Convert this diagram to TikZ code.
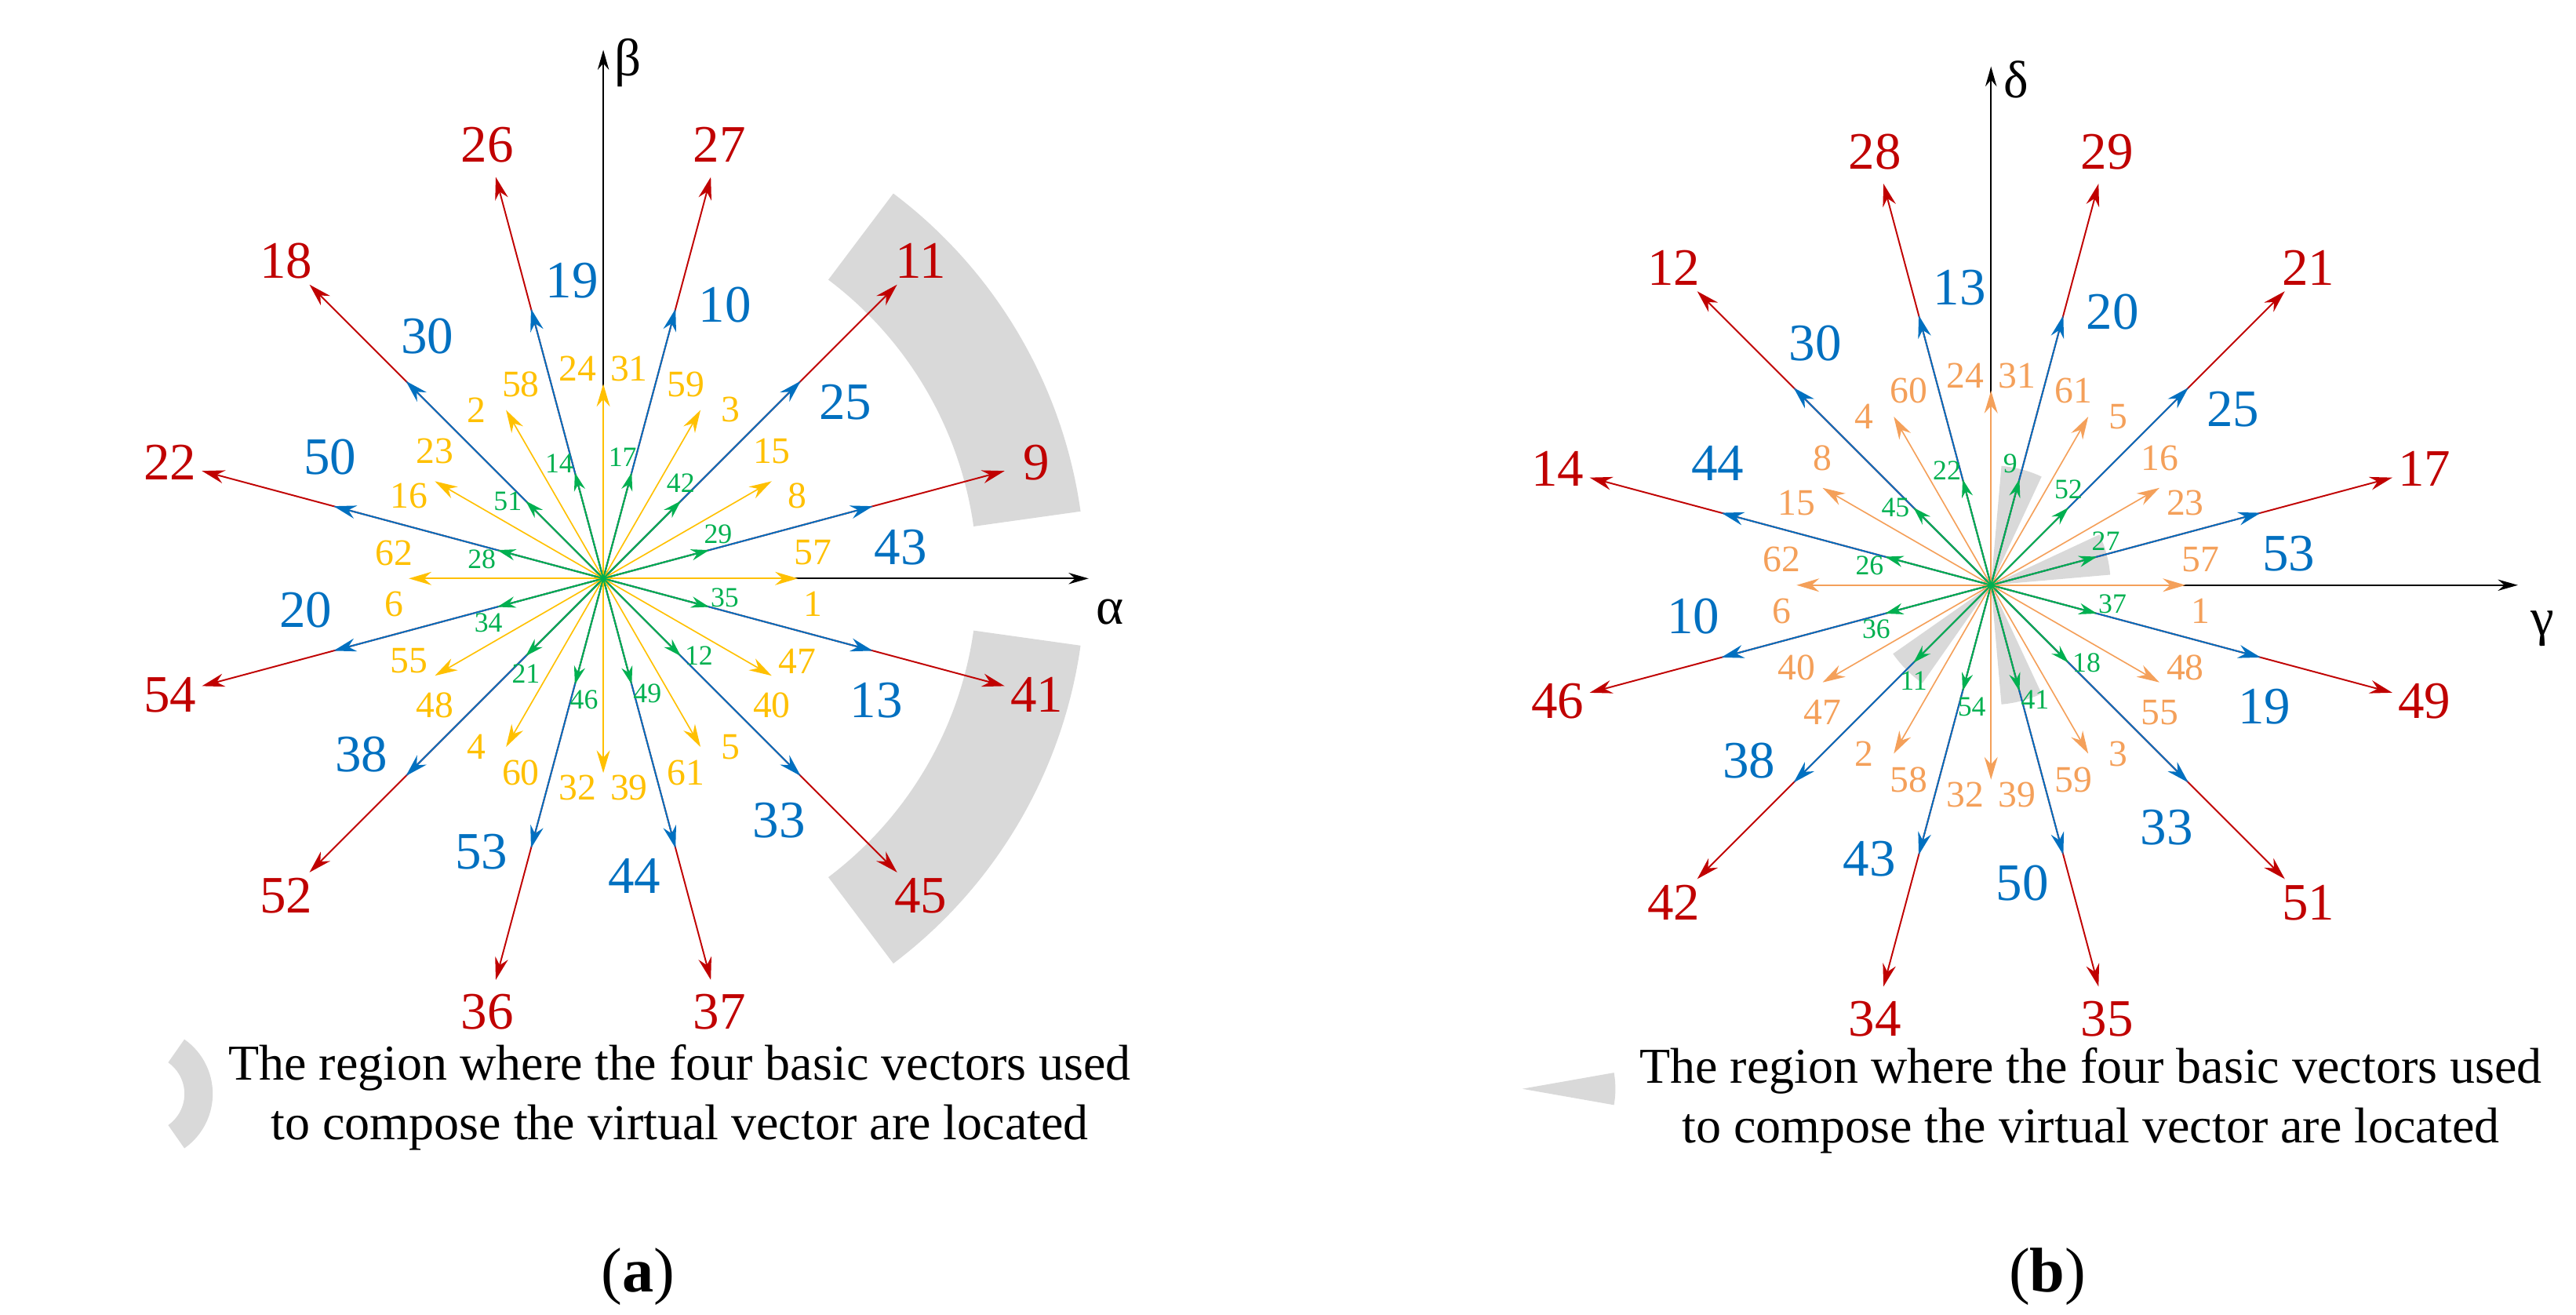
\documentclass[tikz,border=0pt]{standalone}
\usepackage{fontspec}
\setmainfont{Liberation Serif}
\usetikzlibrary{arrows.meta}
\definecolor{vred}{HTML}{C00000}
\definecolor{vblue}{HTML}{0070C0}
\definecolor{vyel}{HTML}{FFC000}
\definecolor{vora}{HTML}{F4A05A}
\definecolor{vgreen}{HTML}{00B050}
\definecolor{reg}{HTML}{D9D9D9}
\begin{document}
\begin{tikzpicture}[x=0.05cm,y=0.05cm,
  vec/.style={line width=1.3pt,-{Stealth[length=0.68cm,width=0.4cm]}},
  gvec/.style={line width=1.3pt,-{Stealth[length=0.55cm,width=0.34cm]}},
  axis/.style={line width=1.2pt,black,-{Stealth[length=0.6cm,width=0.34cm]}},
  big/.style={inner sep=0pt,font=\fontsize{45}{45}\selectfont},
  mid/.style={inner sep=0pt,font=\fontsize{32}{32}\selectfont},
  small/.style={inner sep=0pt,font=\fontsize{24}{24}\selectfont},
  leg/.style={inner sep=0pt,font=\fontsize{43}{51}\selectfont,align=center}]
\useasboundingbox (0,0) rectangle (1550,791);
\coordinate (ca) at (363,443);
\coordinate (cb) at (1198,439);
% regions
\fill[reg] ([shift={(8:225)}]ca) arc[start angle=8,end angle=53,radius=225] -- ([shift={(53:290)}]ca) arc[start angle=53,end angle=8,radius=290] -- cycle;
\fill[reg] ([shift={(-53:225)}]ca) arc[start angle=-53,end angle=-8,radius=225] -- ([shift={(-8:290)}]ca) arc[start angle=-8,end angle=-53,radius=290] -- cycle;
\foreach \t in {15,75,225,285}{
  \fill[reg] (cb) -- ([shift={(\t-10:72)}]cb) arc[start angle=\t-10,end angle=\t+10,radius=72] -- cycle;}
% axes
\coordinate (ax) at (655,443); \coordinate (ay) at (363,761);
\draw[axis] (ca) -- (ax); \draw[axis] (ca) -- (ay);
\node[big] (alab) at (668,423) {α}; \node[big] (blab) at (378,753) {β};
\coordinate (bx) at (1515,439); \coordinate (by) at (1198,751);
\draw[axis] (cb) -- (bx); \draw[axis] (cb) -- (by);
\node[big] (glab) at (1530,413) {γ}; \node[big] (dlab) at (1213,743) {δ};
% diagram a
\foreach \a/\l in {15/9,45/11,75/27,105/26,135/18,165/22,195/54,225/52,255/36,285/37,315/45,345/41}{
  \coordinate (ar\l) at ([shift={(\a:250)}]ca);
  \draw[vec,vred] (ca) -- (ar\l);
  \node[big,text=vred] (arl\l) at ([shift={(\a:270)}]ca) {\l};}
\foreach \a/\l in {15/43,45/25,75/10,105/19,135/30,165/50,195/20,225/38,255/53,285/44,315/33,345/13}{
  \coordinate (ab\l) at ([shift={(\a:168)}]ca);
  \draw[vec,vblue] (ca) -- (ab\l);
  \node[big,text=vblue] (abl\l) at ([shift={(\a-9:180)}]ca) {\l};}
\foreach \a/\p/\m in {0/57/1,30/15/8,60/59/3,90/24/31,120/2/58,150/16/23,180/6/62,210/48/55,240/60/4,270/39/32,300/5/61,330/47/40}{
  \coordinate (ay\p) at ([shift={(\a:117)}]ca);
  \draw[vec,vyel,line width=1.1pt] (ca) -- (ay\p);
  \node[mid,text=vyel] (ayp\p) at ([shift={(\a+7:127)}]ca) {\p};
  \node[mid,text=vyel] (aym\m) at ([shift={(\a-7:127)}]ca) {\m};}
\foreach \a/\l in {15/29,45/42,75/17,105/14,135/51,165/28,195/34,225/21,255/46,285/49,315/12,345/35}{
  \coordinate (ag\l) at ([shift={(\a:66)}]ca);
  \draw[gvec,vgreen] (ca) -- (ag\l);
  \node[small,text=vgreen] (agl\l) at ([shift={(\a+6:74)}]ca) {\l};}
% diagram b
\foreach \a/\l in {15/17,45/21,75/29,105/28,135/12,165/14,195/46,225/42,255/34,285/35,315/51,345/49}{
  \coordinate (br\l) at ([shift={(\a:250)}]cb);
  \draw[vec,vred] (cb) -- (br\l);
  \node[big,text=vred] (brl\l) at ([shift={(\a:270)}]cb) {\l};}
\foreach \a/\l in {15/53,45/25,75/20,105/13,135/30,165/44,195/10,225/38,255/43,285/50,315/33,345/19}{
  \coordinate (bb\l) at ([shift={(\a:168)}]cb);
  \draw[vec,vblue] (cb) -- (bb\l);
  \node[big,text=vblue] (bbl\l) at ([shift={(\a-9:180)}]cb) {\l};}
\foreach \a/\p/\m in {0/57/1,30/16/23,60/61/5,90/24/31,120/4/60,150/15/8,180/6/62,210/47/40,240/58/2,270/39/32,300/3/59,330/48/55}{
  \coordinate (by\p) at ([shift={(\a:117)}]cb);
  \draw[vec,vora,line width=1.1pt] (cb) -- (by\p);
  \node[mid,text=vora] (byp\p) at ([shift={(\a+7:127)}]cb) {\p};
  \node[mid,text=vora] (bym\m) at ([shift={(\a-7:127)}]cb) {\m};}
\foreach \a/\l in {15/27,45/52,75/9,105/22,135/45,165/26,195/36,225/11,255/54,285/41,315/18,345/37}{
  \coordinate (bg\l) at ([shift={(\a:66)}]cb);
  \draw[gvec,vgreen] (cb) -- (bg\l);
  \node[small,text=vgreen] (bgl\l) at ([shift={(\a+6:74)}]cb) {\l};}
% legends
\coordinate (lc) at (88,133);
\fill[reg] ([shift={(-55:23)}]lc) arc[start angle=-55,end angle=55,radius=23] -- ([shift={(55:40)}]lc) arc[start angle=55,end angle=-55,radius=40] -- cycle;
\node[leg] (legA) at (409,131) {The region where the four basic vectors used\\to compose the virtual vector are located};
\coordinate (lw) at (916,136);
\fill[reg] (lw) -- ([shift={(-10:56)}]lw) arc[start angle=-10,end angle=10,radius=56] -- cycle;
\node[leg] (legB) at (1258,129) {The region where the four basic vectors used\\to compose the virtual vector are located};
\node[inner sep=0pt,font=\fontsize{54}{54}\selectfont] (capA) at (384,23) {(\textbf{a})};
\node[inner sep=0pt,font=\fontsize{54}{54}\selectfont] (capB) at (1232,23) {(\textbf{b})};
\end{tikzpicture}
\end{document}
